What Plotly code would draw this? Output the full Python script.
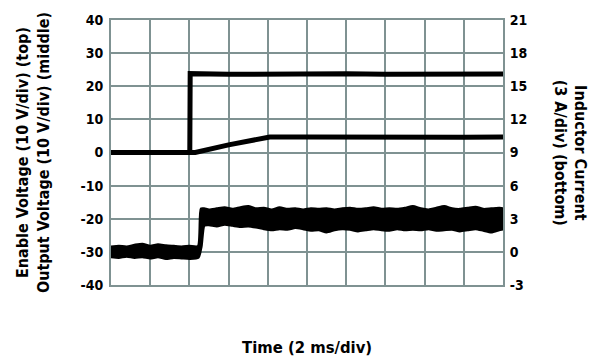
import plotly.graph_objects as go

# ---- data ----
# Enable voltage (V) vs time (ms)
t_enable = [0.0, 1.0, 2.0, 3.0, 4.02, 4.04, 6.0, 8.0, 10.0, 12.0, 14.0, 16.0, 18.0, 20.0]
v_enable = [0.0, 0.1, -0.1, 0.0, 0.0, 23.8, 23.6, 23.7, 23.6, 23.8, 23.6, 23.7, 23.6, 23.7]

# Output voltage (V) vs time (ms)
t_output = [0.0, 2.0, 4.3, 6.0, 8.1, 10.0, 12.0, 14.0, 16.0, 18.0, 20.0]
v_output = [0.0, 0.0, 0.0, 2.3, 4.7, 4.7, 4.6, 4.7, 4.7, 4.6, 4.7]

# Inductor current envelope (A) vs time (ms)
t_current = [0.0, 0.4, 0.8, 1.2, 1.6, 2.0, 2.4, 2.8, 3.2, 3.6, 4.0, 4.45, 4.6, 4.75,
             5.0, 5.4, 5.8, 6.2, 6.6, 7.0, 7.4, 7.8, 8.2, 8.6, 9.0, 9.4, 9.8, 10.2,
             10.6, 11.0, 11.4, 11.8, 12.2, 12.6, 13.0, 13.4, 13.8, 14.2, 14.6, 15.0,
             15.4, 15.8, 16.2, 16.6, 17.0, 17.4, 17.8, 18.2, 18.6, 19.0, 19.4, 19.8, 20.0]
i_current_max = [0.45, 0.5, 0.45, 0.6, 0.7, 0.5, 0.65, 0.55, 0.5, 0.45, 0.5, 0.5, 3.9, 3.9,
                 3.8, 3.9, 4.0, 3.85, 4.0, 4.1, 3.9, 3.95, 3.8, 4.0, 3.85, 3.9, 3.8, 3.9,
                 3.85, 3.9, 3.8, 3.9, 3.95, 3.85, 3.9, 4.0, 3.85, 3.9, 3.85, 3.95,
                 4.1, 3.9, 3.8, 3.95, 4.1, 3.9, 3.85, 3.95, 4.05, 3.85, 3.9, 3.95, 3.9]
i_current_min = [-0.45, -0.5, -0.4, -0.5, -0.45, -0.55, -0.45, -0.6, -0.5, -0.55, -0.6, -0.5, 0.5, 2.4,
                 2.45, 2.35, 2.5, 2.4, 2.3, 2.35, 2.25, 2.1, 2.0, 2.1, 2.05, 2.2, 2.1, 1.95,
                 2.0, 1.8, 2.0, 2.1, 2.05, 1.9, 2.0, 2.1, 2.0, 1.95, 2.1, 2.0,
                 2.05, 2.0, 2.1, 1.95, 2.0, 2.05, 1.9, 2.0, 2.1, 1.95, 1.8, 2.0, 2.1]

# axis ticks
v_ticks = [-40, -30, -20, -10, 0, 10, 20, 30, 40]
a_ticks = [-3, 0, 3, 6, 9, 12, 15, 18, 21]

FONT = "DejaVu Sans Condensed, Roboto, Liberation Sans, sans-serif"
GRID = "#7f9292"

fig = go.Figure()

fig.add_trace(go.Scatter(x=t_enable, y=v_enable, mode="lines",
                         line=dict(color="black", width=5), showlegend=False))
fig.add_trace(go.Scatter(x=t_output, y=v_output, mode="lines",
                         line=dict(color="black", width=5), showlegend=False))
# current band polygon
poly_x = t_current + t_current[::-1]
poly_y = i_current_max + i_current_min[::-1]
fig.add_trace(go.Scatter(x=poly_x, y=poly_y, mode="lines", fill="toself",
                         fillcolor="black", line=dict(color="black", width=3, shape="spline", smoothing=0.6),
                         yaxis="y2", showlegend=False))

fig.update_layout(
    width=605, height=364,
    margin=dict(l=111, r=102, t=16, b=79),
    paper_bgcolor="white", plot_bgcolor="white",
    xaxis=dict(range=[0, 20], dtick=2, tick0=0, showticklabels=False,
               showgrid=True, gridcolor=GRID, gridwidth=2,
               showline=True, linecolor=GRID, linewidth=2, mirror=True,
               zeroline=False, ticks=""),
    yaxis=dict(range=[-40, 40], tickvals=v_ticks, ticktext=[str(v) for v in v_ticks],
               showgrid=True, gridcolor=GRID, gridwidth=2,
               showline=True, linecolor=GRID, linewidth=2, mirror=True,
               zeroline=False, ticks="outside", ticklen=3, tickcolor="rgba(0,0,0,0)",
               tickfont=dict(family=FONT, size=14, color="black", weight="bold")),
    yaxis2=dict(range=[-3, 21], tickvals=a_ticks, ticktext=[str(v) for v in a_ticks],
                overlaying="y", side="right", showgrid=False, zeroline=False,
                ticks="outside", ticklen=3, tickcolor="rgba(0,0,0,0)",
                tickfont=dict(family=FONT, size=14, color="black", weight="bold")),
    annotations=[
        dict(text="<b>Enable Voltage (10 V/div) (top)<br>Output Voltage (10 V/div) (middle)</b>",
             xref="paper", yref="paper", x=-0.2, y=0.5, xanchor="center", yanchor="middle",
             textangle=-90, showarrow=False,
             font=dict(family=FONT, size=16, color="black")),
        dict(text="<b>Inductor Current<br>(3 A/div) (bottom)</b>",
             xref="paper", yref="paper", x=1.173, y=0.5, xanchor="center", yanchor="middle",
             textangle=90, showarrow=False,
             font=dict(family=FONT, size=16, color="black")),
        dict(text="<b>Time (2 ms/div)</b>",
             xref="paper", yref="paper", x=0.5, y=-0.235, xanchor="center", yanchor="middle",
             showarrow=False,
             font=dict(family=FONT, size=16.5, color="black")),
    ],
)

fig.write_html("out.html")
